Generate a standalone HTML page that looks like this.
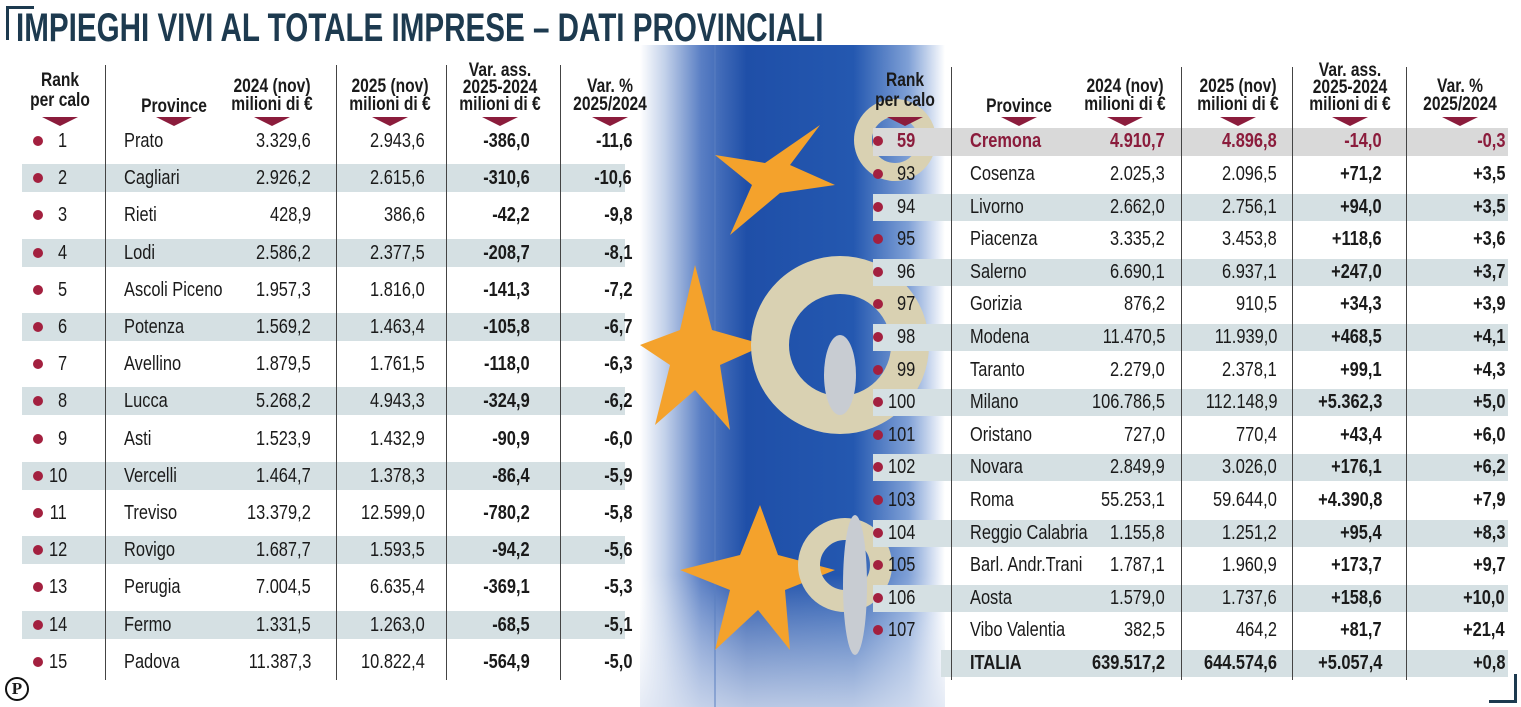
<!DOCTYPE html>
<html><head><meta charset="utf-8"><style>
body{margin:0;background:#fff;}
#c{position:relative;width:1521px;height:707px;overflow:hidden;background:#fff;font-family:"Liberation Sans",sans-serif;color:#1a1a1a;}
.t{position:absolute;white-space:nowrap;font-size:20px;line-height:22px;}
.L{transform:scaleX(.82);transform-origin:left center;}
.R{transform:scaleX(.82);transform-origin:right center;text-align:right;}
.C{transform:scaleX(.82);transform-origin:center center;text-align:center;width:200px;font-weight:bold;font-size:19px;}
.b{font-weight:bold;}
.m{color:#8b1c3c;font-weight:bold;}
.band{position:absolute;background:#d5e0e3;}
.v{position:absolute;width:1px;background:#444;}
.dot{position:absolute;width:10px;height:10px;border-radius:50%;background:#a3203f;}
.tri{position:absolute;width:0;height:0;border-left:18px solid transparent;border-right:18px solid transparent;border-top:9px solid #8b1c3c;}
</style></head><body><div id="c">

<!-- photo -->
<svg style="position:absolute;left:640px;top:45px" width="305" height="662" viewBox="0 0 305 662">
<defs>
<linearGradient id="bg" x1="0" x2="1" y1="0" y2="0">
<stop offset="0" stop-color="#fff"/><stop offset=".08" stop-color="#c4d2ea"/><stop offset=".2" stop-color="#5a7fc4"/><stop offset=".35" stop-color="#1f4fa8"/><stop offset=".7" stop-color="#2458b0"/><stop offset=".88" stop-color="#7fa0d6"/><stop offset="1" stop-color="#fff"/></linearGradient>
<linearGradient id="bot" x1="0" x2="0" y1="0" y2="1"><stop offset=".8" stop-color="#fff" stop-opacity="0"/><stop offset="1" stop-color="#dfe6f3" stop-opacity=".8"/></linearGradient>
</defs>
<rect width="305" height="662" fill="url(#bg)"/>
<rect width="305" height="662" fill="url(#bot)"/>
<line x1="75" y1="0" x2="75" y2="662" stroke="#5a7fc0" stroke-width="1"/>
<g fill="#f4a22c">
<polygon points="180,80 150,120 195,140 140,148 90,190 112,140 75,110 125,118"/>
<polygon points="55,220 72,285 125,300 80,320 90,385 55,345 15,380 30,320 0,300 40,285"/>
<polygon points="120,460 138,510 195,525 145,545 150,605 118,565 75,605 90,545 40,525 100,510"/>
</g>
<g fill="none" stroke="#d9d1b2">
<circle cx="200" cy="300" r="70" stroke-width="38"/>
<circle cx="205" cy="520" r="36" stroke-width="22"/>
<circle cx="255" cy="95" r="32" stroke-width="18"/>
</g>
<g fill="#c8ccd2"><ellipse cx="200" cy="330" rx="16" ry="40"/><ellipse cx="215" cy="540" rx="12" ry="70"/></g>
</svg>

<!-- title -->
<div style="position:absolute;left:6px;top:6px;width:28px;height:3px;background:#1d3a4f"></div>
<div style="position:absolute;left:6px;top:6px;width:3px;height:34px;background:#1d3a4f"></div>
<div class="t L b" style="left:16px;top:6px;font-size:40px;line-height:44px;color:#1d3a4f;transform:scaleX(.74)">IMPIEGHI VIVI AL TOTALE IMPRESE – DATI PROVINCIALI</div>

<!-- left bands -->
<div class="band" style="left:22px;width:603px;top:164px;height:28px"></div>
<div class="band" style="left:22px;width:603px;top:239px;height:28px"></div>
<div class="band" style="left:22px;width:603px;top:313px;height:28px"></div>
<div class="band" style="left:22px;width:603px;top:387px;height:28px"></div>
<div class="band" style="left:22px;width:603px;top:462px;height:28px"></div>
<div class="band" style="left:22px;width:603px;top:536px;height:28px"></div>
<div class="band" style="left:22px;width:603px;top:611px;height:28px"></div>
<!-- right bands -->
<div class="band" style="left:873px;width:635px;top:128px;height:28px;background:#d9d9d9"></div>
<div class="band" style="left:873px;width:635px;top:194px;height:27px"></div>
<div class="band" style="left:873px;width:635px;top:259px;height:27px"></div>
<div class="band" style="left:873px;width:635px;top:324px;height:27px"></div>
<div class="band" style="left:873px;width:635px;top:389px;height:27px"></div>
<div class="band" style="left:873px;width:635px;top:454px;height:27px"></div>
<div class="band" style="left:873px;width:635px;top:520px;height:27px"></div>
<div class="band" style="left:873px;width:635px;top:585px;height:27px"></div>
<div class="band" style="left:941px;width:567px;top:650px;height:27px"></div>

<!-- vertical lines -->
<div class="v" style="left:105px;top:65px;height:615px"></div>
<div class="v" style="left:336px;top:65px;height:615px"></div>
<div class="v" style="left:446px;top:65px;height:615px"></div>
<div class="v" style="left:560px;top:65px;height:615px"></div>
<div class="v" style="left:951px;top:67px;height:613px"></div>
<div class="v" style="left:1181px;top:67px;height:613px"></div>
<div class="v" style="left:1292px;top:67px;height:613px"></div>
<div class="v" style="left:1406px;top:67px;height:613px"></div>

<!-- left header -->
<div class="t C" style="left:-40px;top:70px">Rank</div>
<div class="t C" style="left:-40px;top:90px">per calo</div>
<div class="t C" style="left:74px;top:96px">Province</div>
<div class="t C" style="left:172px;top:76px">2024 (nov)</div>
<div class="t C" style="left:172px;top:94px">milioni di €</div>
<div class="t C" style="left:290px;top:76px">2025 (nov)</div>
<div class="t C" style="left:290px;top:94px">milioni di €</div>
<div class="t C" style="left:400px;top:60px">Var. ass.</div>
<div class="t C" style="left:400px;top:77px">2025-2024</div>
<div class="t C" style="left:400px;top:94px">milioni di €</div>
<div class="t C" style="left:510px;top:76px">Var. %</div>
<div class="t C" style="left:510px;top:94px">2025/2024</div>
<div class="tri" style="left:42px;top:117px"></div>
<div class="tri" style="left:156px;top:117px"></div>
<div class="tri" style="left:254px;top:117px"></div>
<div class="tri" style="left:372px;top:117px"></div>
<div class="tri" style="left:482px;top:117px"></div>
<div class="tri" style="left:592px;top:117px"></div>

<!-- right header -->
<div class="t C" style="left:805px;top:70px">Rank</div>
<div class="t C" style="left:805px;top:90px">per calo</div>
<div class="t C" style="left:919px;top:96px">Province</div>
<div class="t C" style="left:1025px;top:76px">2024 (nov)</div>
<div class="t C" style="left:1025px;top:94px">milioni di €</div>
<div class="t C" style="left:1138px;top:76px">2025 (nov)</div>
<div class="t C" style="left:1138px;top:94px">milioni di €</div>
<div class="t C" style="left:1250px;top:60px">Var. ass.</div>
<div class="t C" style="left:1250px;top:77px">2025-2024</div>
<div class="t C" style="left:1250px;top:94px">milioni di €</div>
<div class="t C" style="left:1360px;top:76px">Var. %</div>
<div class="t C" style="left:1360px;top:94px">2025/2024</div>
<div class="tri" style="left:887px;top:117px"></div>
<div class="tri" style="left:1001px;top:117px"></div>
<div class="tri" style="left:1107px;top:117px"></div>
<div class="tri" style="left:1220px;top:117px"></div>
<div class="tri" style="left:1332px;top:117px"></div>
<div class="tri" style="left:1442px;top:117px"></div>

<!-- left rows -->
<div class="dot" style="left:33px;top:136px"></div><div class="t R" style="right:1454px;top:130px">1</div><div class="t L" style="left:124px;top:130px">Prato</div><div class="t R" style="right:1210px;top:130px">3.329,6</div><div class="t R" style="right:1096px;top:130px">2.943,6</div><div class="t R b" style="right:991px;top:130px">-386,0</div><div class="t R b" style="right:889px;top:130px">-11,6</div>
<div class="dot" style="left:33px;top:173px"></div><div class="t R" style="right:1454px;top:167px">2</div><div class="t L" style="left:124px;top:167px">Cagliari</div><div class="t R" style="right:1210px;top:167px">2.926,2</div><div class="t R" style="right:1096px;top:167px">2.615,6</div><div class="t R b" style="right:991px;top:167px">-310,6</div><div class="t R b" style="right:889px;top:167px">-10,6</div>
<div class="dot" style="left:33px;top:210px"></div><div class="t R" style="right:1454px;top:204px">3</div><div class="t L" style="left:124px;top:204px">Rieti</div><div class="t R" style="right:1210px;top:204px">428,9</div><div class="t R" style="right:1096px;top:204px">386,6</div><div class="t R b" style="right:991px;top:204px">-42,2</div><div class="t R b" style="right:889px;top:204px">-9,8</div>
<div class="dot" style="left:33px;top:248px"></div><div class="t R" style="right:1454px;top:242px">4</div><div class="t L" style="left:124px;top:242px">Lodi</div><div class="t R" style="right:1210px;top:242px">2.586,2</div><div class="t R" style="right:1096px;top:242px">2.377,5</div><div class="t R b" style="right:991px;top:242px">-208,7</div><div class="t R b" style="right:889px;top:242px">-8,1</div>
<div class="dot" style="left:33px;top:285px"></div><div class="t R" style="right:1454px;top:279px">5</div><div class="t L" style="left:124px;top:279px">Ascoli Piceno</div><div class="t R" style="right:1210px;top:279px">1.957,3</div><div class="t R" style="right:1096px;top:279px">1.816,0</div><div class="t R b" style="right:991px;top:279px">-141,3</div><div class="t R b" style="right:889px;top:279px">-7,2</div>
<div class="dot" style="left:33px;top:322px"></div><div class="t R" style="right:1454px;top:316px">6</div><div class="t L" style="left:124px;top:316px">Potenza</div><div class="t R" style="right:1210px;top:316px">1.569,2</div><div class="t R" style="right:1096px;top:316px">1.463,4</div><div class="t R b" style="right:991px;top:316px">-105,8</div><div class="t R b" style="right:889px;top:316px">-6,7</div>
<div class="dot" style="left:33px;top:359px"></div><div class="t R" style="right:1454px;top:353px">7</div><div class="t L" style="left:124px;top:353px">Avellino</div><div class="t R" style="right:1210px;top:353px">1.879,5</div><div class="t R" style="right:1096px;top:353px">1.761,5</div><div class="t R b" style="right:991px;top:353px">-118,0</div><div class="t R b" style="right:889px;top:353px">-6,3</div>
<div class="dot" style="left:33px;top:396px"></div><div class="t R" style="right:1454px;top:390px">8</div><div class="t L" style="left:124px;top:390px">Lucca</div><div class="t R" style="right:1210px;top:390px">5.268,2</div><div class="t R" style="right:1096px;top:390px">4.943,3</div><div class="t R b" style="right:991px;top:390px">-324,9</div><div class="t R b" style="right:889px;top:390px">-6,2</div>
<div class="dot" style="left:33px;top:434px"></div><div class="t R" style="right:1454px;top:428px">9</div><div class="t L" style="left:124px;top:428px">Asti</div><div class="t R" style="right:1210px;top:428px">1.523,9</div><div class="t R" style="right:1096px;top:428px">1.432,9</div><div class="t R b" style="right:991px;top:428px">-90,9</div><div class="t R b" style="right:889px;top:428px">-6,0</div>
<div class="dot" style="left:33px;top:471px"></div><div class="t R" style="right:1454px;top:465px">10</div><div class="t L" style="left:124px;top:465px">Vercelli</div><div class="t R" style="right:1210px;top:465px">1.464,7</div><div class="t R" style="right:1096px;top:465px">1.378,3</div><div class="t R b" style="right:991px;top:465px">-86,4</div><div class="t R b" style="right:889px;top:465px">-5,9</div>
<div class="dot" style="left:33px;top:508px"></div><div class="t R" style="right:1454px;top:502px">11</div><div class="t L" style="left:124px;top:502px">Treviso</div><div class="t R" style="right:1210px;top:502px">13.379,2</div><div class="t R" style="right:1096px;top:502px">12.599,0</div><div class="t R b" style="right:991px;top:502px">-780,2</div><div class="t R b" style="right:889px;top:502px">-5,8</div>
<div class="dot" style="left:33px;top:545px"></div><div class="t R" style="right:1454px;top:539px">12</div><div class="t L" style="left:124px;top:539px">Rovigo</div><div class="t R" style="right:1210px;top:539px">1.687,7</div><div class="t R" style="right:1096px;top:539px">1.593,5</div><div class="t R b" style="right:991px;top:539px">-94,2</div><div class="t R b" style="right:889px;top:539px">-5,6</div>
<div class="dot" style="left:33px;top:582px"></div><div class="t R" style="right:1454px;top:576px">13</div><div class="t L" style="left:124px;top:576px">Perugia</div><div class="t R" style="right:1210px;top:576px">7.004,5</div><div class="t R" style="right:1096px;top:576px">6.635,4</div><div class="t R b" style="right:991px;top:576px">-369,1</div><div class="t R b" style="right:889px;top:576px">-5,3</div>
<div class="dot" style="left:33px;top:620px"></div><div class="t R" style="right:1454px;top:614px">14</div><div class="t L" style="left:124px;top:614px">Fermo</div><div class="t R" style="right:1210px;top:614px">1.331,5</div><div class="t R" style="right:1096px;top:614px">1.263,0</div><div class="t R b" style="right:991px;top:614px">-68,5</div><div class="t R b" style="right:889px;top:614px">-5,1</div>
<div class="dot" style="left:33px;top:657px"></div><div class="t R" style="right:1454px;top:651px">15</div><div class="t L" style="left:124px;top:651px">Padova</div><div class="t R" style="right:1210px;top:651px">11.387,3</div><div class="t R" style="right:1096px;top:651px">10.822,4</div><div class="t R b" style="right:991px;top:651px">-564,9</div><div class="t R b" style="right:889px;top:651px">-5,0</div>

<!-- right rows -->
<div class="dot" style="left:873px;top:136px"></div><div class="t R m" style="right:606px;top:130px">59</div><div class="t L m" style="left:970px;top:130px">Cremona</div><div class="t R m" style="right:356px;top:130px">4.910,7</div><div class="t R m" style="right:244px;top:130px">4.896,8</div><div class="t R m" style="right:139px;top:130px">-14,0</div><div class="t R m" style="right:16px;top:130px">-0,3</div>
<div class="dot" style="left:873px;top:169px"></div><div class="t R" style="right:606px;top:163px">93</div><div class="t L" style="left:970px;top:163px">Cosenza</div><div class="t R" style="right:356px;top:163px">2.025,3</div><div class="t R" style="right:244px;top:163px">2.096,5</div><div class="t R b" style="right:139px;top:163px">+71,2</div><div class="t R b" style="right:16px;top:163px">+3,5</div>
<div class="dot" style="left:873px;top:202px"></div><div class="t R" style="right:606px;top:196px">94</div><div class="t L" style="left:970px;top:196px">Livorno</div><div class="t R" style="right:356px;top:196px">2.662,0</div><div class="t R" style="right:244px;top:196px">2.756,1</div><div class="t R b" style="right:139px;top:196px">+94,0</div><div class="t R b" style="right:16px;top:196px">+3,5</div>
<div class="dot" style="left:873px;top:234px"></div><div class="t R" style="right:606px;top:228px">95</div><div class="t L" style="left:970px;top:228px">Piacenza</div><div class="t R" style="right:356px;top:228px">3.335,2</div><div class="t R" style="right:244px;top:228px">3.453,8</div><div class="t R b" style="right:139px;top:228px">+118,6</div><div class="t R b" style="right:16px;top:228px">+3,6</div>
<div class="dot" style="left:873px;top:267px"></div><div class="t R" style="right:606px;top:261px">96</div><div class="t L" style="left:970px;top:261px">Salerno</div><div class="t R" style="right:356px;top:261px">6.690,1</div><div class="t R" style="right:244px;top:261px">6.937,1</div><div class="t R b" style="right:139px;top:261px">+247,0</div><div class="t R b" style="right:16px;top:261px">+3,7</div>
<div class="dot" style="left:873px;top:299px"></div><div class="t R" style="right:606px;top:293px">97</div><div class="t L" style="left:970px;top:293px">Gorizia</div><div class="t R" style="right:356px;top:293px">876,2</div><div class="t R" style="right:244px;top:293px">910,5</div><div class="t R b" style="right:139px;top:293px">+34,3</div><div class="t R b" style="right:16px;top:293px">+3,9</div>
<div class="dot" style="left:873px;top:332px"></div><div class="t R" style="right:606px;top:326px">98</div><div class="t L" style="left:970px;top:326px">Modena</div><div class="t R" style="right:356px;top:326px">11.470,5</div><div class="t R" style="right:244px;top:326px">11.939,0</div><div class="t R b" style="right:139px;top:326px">+468,5</div><div class="t R b" style="right:16px;top:326px">+4,1</div>
<div class="dot" style="left:873px;top:365px"></div><div class="t R" style="right:606px;top:359px">99</div><div class="t L" style="left:970px;top:359px">Taranto</div><div class="t R" style="right:356px;top:359px">2.279,0</div><div class="t R" style="right:244px;top:359px">2.378,1</div><div class="t R b" style="right:139px;top:359px">+99,1</div><div class="t R b" style="right:16px;top:359px">+4,3</div>
<div class="dot" style="left:873px;top:397px"></div><div class="t R" style="right:606px;top:391px">100</div><div class="t L" style="left:970px;top:391px">Milano</div><div class="t R" style="right:356px;top:391px">106.786,5</div><div class="t R" style="right:244px;top:391px">112.148,9</div><div class="t R b" style="right:139px;top:391px">+5.362,3</div><div class="t R b" style="right:16px;top:391px">+5,0</div>
<div class="dot" style="left:873px;top:430px"></div><div class="t R" style="right:606px;top:424px">101</div><div class="t L" style="left:970px;top:424px">Oristano</div><div class="t R" style="right:356px;top:424px">727,0</div><div class="t R" style="right:244px;top:424px">770,4</div><div class="t R b" style="right:139px;top:424px">+43,4</div><div class="t R b" style="right:16px;top:424px">+6,0</div>
<div class="dot" style="left:873px;top:462px"></div><div class="t R" style="right:606px;top:456px">102</div><div class="t L" style="left:970px;top:456px">Novara</div><div class="t R" style="right:356px;top:456px">2.849,9</div><div class="t R" style="right:244px;top:456px">3.026,0</div><div class="t R b" style="right:139px;top:456px">+176,1</div><div class="t R b" style="right:16px;top:456px">+6,2</div>
<div class="dot" style="left:873px;top:495px"></div><div class="t R" style="right:606px;top:489px">103</div><div class="t L" style="left:970px;top:489px">Roma</div><div class="t R" style="right:356px;top:489px">55.253,1</div><div class="t R" style="right:244px;top:489px">59.644,0</div><div class="t R b" style="right:139px;top:489px">+4.390,8</div><div class="t R b" style="right:16px;top:489px">+7,9</div>
<div class="dot" style="left:873px;top:528px"></div><div class="t R" style="right:606px;top:522px">104</div><div class="t L" style="left:970px;top:522px">Reggio Calabria</div><div class="t R" style="right:356px;top:522px">1.155,8</div><div class="t R" style="right:244px;top:522px">1.251,2</div><div class="t R b" style="right:139px;top:522px">+95,4</div><div class="t R b" style="right:16px;top:522px">+8,3</div>
<div class="dot" style="left:873px;top:560px"></div><div class="t R" style="right:606px;top:554px">105</div><div class="t L" style="left:970px;top:554px">Barl. Andr.Trani</div><div class="t R" style="right:356px;top:554px">1.787,1</div><div class="t R" style="right:244px;top:554px">1.960,9</div><div class="t R b" style="right:139px;top:554px">+173,7</div><div class="t R b" style="right:16px;top:554px">+9,7</div>
<div class="dot" style="left:873px;top:593px"></div><div class="t R" style="right:606px;top:587px">106</div><div class="t L" style="left:970px;top:587px">Aosta</div><div class="t R" style="right:356px;top:587px">1.579,0</div><div class="t R" style="right:244px;top:587px">1.737,6</div><div class="t R b" style="right:139px;top:587px">+158,6</div><div class="t R b" style="right:16px;top:587px">+10,0</div>
<div class="dot" style="left:873px;top:625px"></div><div class="t R" style="right:606px;top:619px">107</div><div class="t L" style="left:970px;top:619px">Vibo Valentia</div><div class="t R" style="right:356px;top:619px">382,5</div><div class="t R" style="right:244px;top:619px">464,2</div><div class="t R b" style="right:139px;top:619px">+81,7</div><div class="t R b" style="right:16px;top:619px">+21,4</div>
<div class="t L b" style="left:970px;top:652px">ITALIA</div><div class="t R b" style="right:356px;top:652px">639.517,2</div><div class="t R b" style="right:244px;top:652px">644.574,6</div><div class="t R b" style="right:139px;top:652px">+5.057,4</div><div class="t R b" style="right:16px;top:652px">+0,8</div>

<!-- logo & corner -->
<div style="position:absolute;left:5px;top:677px;width:24px;height:24px;border:2px solid #111;border-radius:50%;box-sizing:border-box;text-align:center;font:bold 17px/20px 'Liberation Serif',serif">P</div>
<div style="position:absolute;left:1489px;top:700px;width:28px;height:3px;background:#1d3a4f"></div>
<div style="position:absolute;left:1514px;top:674px;width:3px;height:29px;background:#1d3a4f"></div>
</div></body></html>
